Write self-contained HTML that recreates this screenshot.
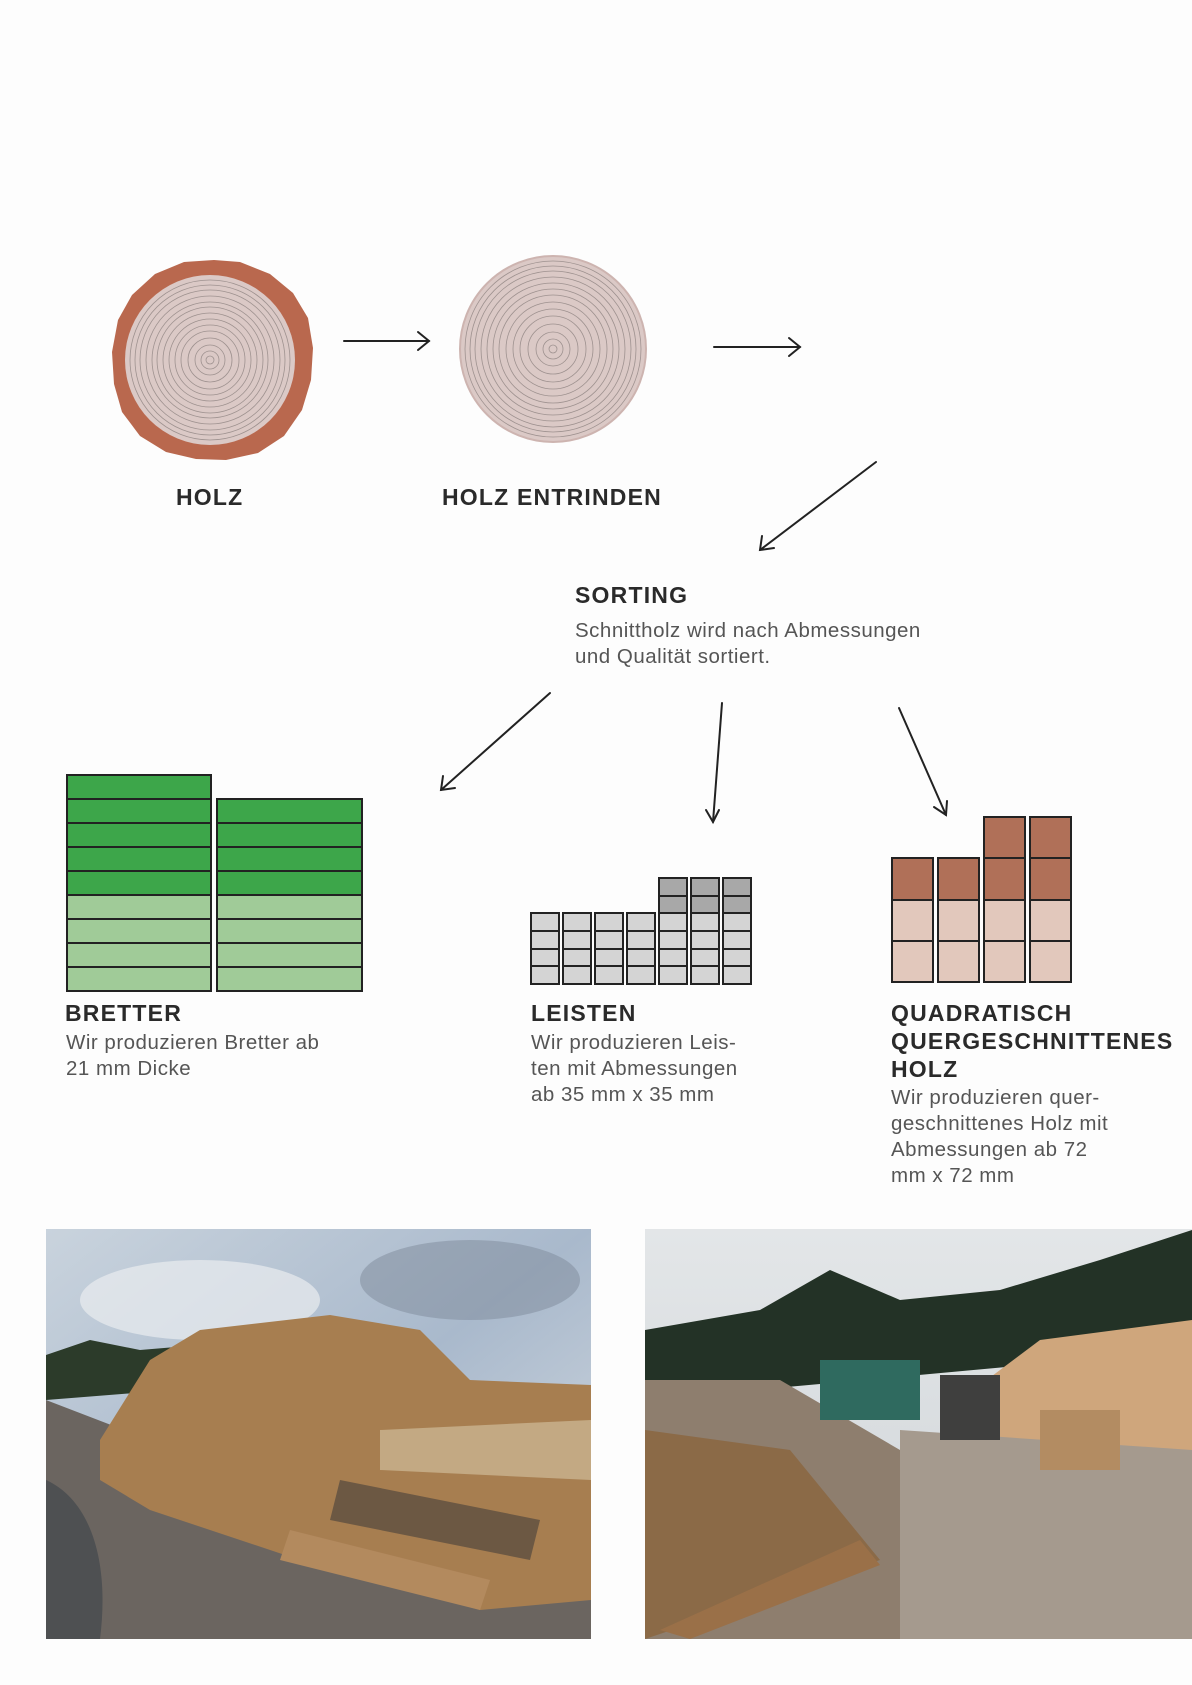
<!DOCTYPE html>
<html><head><meta charset="utf-8"><style>
html,body{margin:0;padding:0;background:#fdfdfd;}
body{width:1192px;height:1685px;position:relative;overflow:hidden;font-family:"Liberation Sans",sans-serif;}
.t{position:absolute;color:#2a2a2a;font-weight:bold;font-size:23px;letter-spacing:1.2px;line-height:28px;white-space:nowrap;}
.d{position:absolute;color:#555;font-size:20.5px;letter-spacing:0.5px;line-height:26px;white-space:nowrap;}
svg{position:absolute;left:0;top:0;}
</style></head><body>
<svg width="1192" height="1685" viewBox="0 0 1192 1685">
<defs>
<linearGradient id="sky1" x1="0" y1="0" x2="1" y2="1"><stop offset="0" stop-color="#c9d3dd"/><stop offset="0.5" stop-color="#a9b9cc"/><stop offset="1" stop-color="#d8dde2"/></linearGradient>
<linearGradient id="sky2" x1="0" y1="0" x2="0" y2="1"><stop offset="0" stop-color="#e3e6e8"/><stop offset="1" stop-color="#cfd4d8"/></linearGradient>
</defs>
<!-- HOLZ -->
<path d="M214 260 L240 262 L270 274 L293 293 L308 318 L313 348 L311 380 L302 410 L284 436 L258 453 L226 460 L196 459 L166 452 L140 436 L122 412 L114 384 L112 352 L118 320 L132 295 L155 274 L184 262Z" fill="#b9684e"/>
<circle cx="210" cy="360" r="85" fill="#dbc9c6"/>
<g fill="none" stroke="#8f8482" stroke-width="0.8" opacity="0.8">
<circle cx="210" cy="360" r="80"/><circle cx="210" cy="360" r="75"/><circle cx="210" cy="360" r="70"/><circle cx="210" cy="360" r="64"/><circle cx="210" cy="360" r="58"/><circle cx="210" cy="360" r="53"/><circle cx="210" cy="360" r="47"/><circle cx="210" cy="360" r="41"/><circle cx="210" cy="360" r="35"/><circle cx="210" cy="360" r="29"/><circle cx="210" cy="360" r="22"/><circle cx="210" cy="360" r="15"/><circle cx="210" cy="360" r="9"/><circle cx="210" cy="360" r="4"/>
</g>
<!-- ENTRINDEN -->
<circle cx="553" cy="349" r="93" fill="#dbc9c6" stroke="#cdb4b0" stroke-width="2"/>
<g fill="none" stroke="#8f8482" stroke-width="0.8" opacity="0.8">
<circle cx="553" cy="349" r="88"/><circle cx="553" cy="349" r="83"/><circle cx="553" cy="349" r="78"/><circle cx="553" cy="349" r="72"/><circle cx="553" cy="349" r="66"/><circle cx="553" cy="349" r="60"/><circle cx="553" cy="349" r="54"/><circle cx="553" cy="349" r="47"/><circle cx="553" cy="349" r="40"/><circle cx="553" cy="349" r="33"/><circle cx="553" cy="349" r="25"/><circle cx="553" cy="349" r="17"/><circle cx="553" cy="349" r="10"/><circle cx="553" cy="349" r="4"/>
</g>
<!-- arrows -->
<g stroke="#222" stroke-width="2" fill="none" stroke-linecap="round">
<line x1="344" y1="341" x2="429" y2="341"/><polyline points="418,332 429,341 418,350"/>
<line x1="714" y1="347" x2="800" y2="347"/><polyline points="789,338 800,347 789,356"/>
<line x1="876" y1="462" x2="760" y2="550"/><polyline points="762,536 760,550 774,548"/>
<line x1="550" y1="693" x2="441" y2="790"/><polyline points="443,776 441,790 455,788"/>
<line x1="722" y1="703" x2="713" y2="822"/><polyline points="706,810 713,822 719,810"/>
<line x1="899" y1="708" x2="946" y2="815"/><polyline points="934,807 946,815 947,801"/>
</g>
<!-- Bretter -->
<g stroke="#222" stroke-width="2">
<rect x="67" y="775" width="144" height="24" fill="#3da64a"/>
<rect x="67" y="799" width="144" height="24" fill="#3da64a"/>
<rect x="67" y="823" width="144" height="24" fill="#3da64a"/>
<rect x="67" y="847" width="144" height="24" fill="#3da64a"/>
<rect x="67" y="871" width="144" height="24" fill="#3da64a"/>
<rect x="67" y="895" width="144" height="24" fill="#a0cb98"/>
<rect x="67" y="919" width="144" height="24" fill="#a0cb98"/>
<rect x="67" y="943" width="144" height="24" fill="#a0cb98"/>
<rect x="67" y="967" width="144" height="24" fill="#a0cb98"/>
<rect x="217" y="799" width="145" height="24" fill="#3da64a"/>
<rect x="217" y="823" width="145" height="24" fill="#3da64a"/>
<rect x="217" y="847" width="145" height="24" fill="#3da64a"/>
<rect x="217" y="871" width="145" height="24" fill="#3da64a"/>
<rect x="217" y="895" width="145" height="24" fill="#a0cb98"/>
<rect x="217" y="919" width="145" height="24" fill="#a0cb98"/>
<rect x="217" y="943" width="145" height="24" fill="#a0cb98"/>
<rect x="217" y="967" width="145" height="24" fill="#a0cb98"/>
</g>
<!-- Leisten -->
<g stroke="#222" stroke-width="2" fill="#d4d4d4">
<g id="c1"><rect x="531" y="913" width="28" height="18"/><rect x="531" y="931" width="28" height="18"/><rect x="531" y="949" width="28" height="17"/><rect x="531" y="966" width="28" height="18"/></g>
<use href="#c1" x="32"/><use href="#c1" x="64"/><use href="#c1" x="96"/><use href="#c1" x="128"/><use href="#c1" x="160"/><use href="#c1" x="192"/>
<rect x="659" y="878" width="28" height="18" fill="#a8a8a8"/><rect x="659" y="896" width="28" height="17" fill="#a8a8a8"/>
<rect x="691" y="878" width="28" height="18" fill="#a8a8a8"/><rect x="691" y="896" width="28" height="17" fill="#a8a8a8"/>
<rect x="723" y="878" width="28" height="18" fill="#a8a8a8"/><rect x="723" y="896" width="28" height="17" fill="#a8a8a8"/>
</g>
<!-- Quadratisch -->
<g stroke="#222" stroke-width="2">
<g id="q1"><rect x="892" y="858" width="41" height="42" fill="#b07058"/><rect x="892" y="900" width="41" height="41" fill="#e2c8bc"/><rect x="892" y="941" width="41" height="41" fill="#e2c8bc"/></g>
<use href="#q1" x="46"/><use href="#q1" x="92"/><use href="#q1" x="138"/>
<rect x="984" y="817" width="41" height="41" fill="#b07058"/>
<rect x="1030" y="817" width="41" height="41" fill="#b07058"/>
</g>
<!-- Photo 1 -->
<rect x="46" y="1229" width="545" height="410" fill="url(#sky1)"/>
<ellipse cx="200" cy="1300" rx="120" ry="40" fill="#e9edf0" opacity="0.7"/>
<ellipse cx="470" cy="1280" rx="110" ry="40" fill="#7d8a99" opacity="0.5"/>
<path d="M46 1355 L90 1340 L140 1350 L200 1345 L260 1360 L300 1380 L46 1400Z" fill="#2c3b2a"/>
<path d="M46 1400 L46 1639 L591 1639 L591 1470 L300 1480 L150 1440Z" fill="#6b6560"/>
<path d="M46 1480 C90 1500 110 1560 100 1639 L46 1639Z" fill="#4e5052"/>
<path d="M100 1440 L150 1360 L200 1330 L330 1315 L420 1330 L470 1380 L591 1385 L591 1600 L480 1610 L300 1560 L150 1510 L100 1480Z" fill="#a77e50"/>
<path d="M380 1430 L591 1420 L591 1480 L380 1470Z" fill="#c3a983"/>
<path d="M340 1480 L540 1520 L530 1560 L330 1520Z" fill="#6c5843"/>
<path d="M290 1530 L490 1580 L480 1610 L280 1560Z" fill="#b38a5e"/>
<!-- Photo 2 -->
<rect x="645" y="1229" width="547" height="410" fill="url(#sky2)"/>
<path d="M645 1330 L760 1310 L830 1270 L900 1300 L1000 1290 L1100 1260 L1192 1230 L1192 1350 L645 1400Z" fill="#233226"/>
<path d="M960 1400 L1040 1340 L1192 1320 L1192 1480 L960 1470Z" fill="#cfa67c"/>
<path d="M645 1380 L780 1380 L900 1450 L1000 1460 L1192 1480 L1192 1639 L645 1639Z" fill="#8e7e6e"/>
<path d="M645 1430 L790 1450 L880 1560 L645 1639Z" fill="#8b6a47"/>
<path d="M900 1430 L1192 1450 L1192 1639 L900 1639Z" fill="#a59a8e"/>
<rect x="820" y="1360" width="100" height="60" fill="#2f6a5f"/>
<rect x="940" y="1375" width="60" height="65" fill="#3f3f3e"/>
<rect x="1040" y="1410" width="80" height="60" fill="#b38c62"/>
<path d="M660 1630 L860 1540 L880 1565 L690 1639Z" fill="#9a7048"/>
</svg>
<div class="t" style="left:176px;top:483px;">HOLZ</div>
<div class="t" style="left:442px;top:483px;">HOLZ ENTRINDEN</div>
<div class="t" style="left:575px;top:581px;">SORTING</div>
<div class="d" style="left:575px;top:618px;">Schnittholz wird nach Abmessungen<br>und Qualität sortiert.</div>
<div class="t" style="left:65px;top:999px;">BRETTER</div>
<div class="d" style="left:66px;top:1030px;">Wir produzieren Bretter ab<br>21 mm Dicke</div>
<div class="t" style="left:531px;top:999px;">LEISTEN</div>
<div class="d" style="left:531px;top:1030px;">Wir produzieren Leis-<br>ten mit Abmessungen<br>ab 35 mm x 35 mm</div>
<div class="t" style="left:891px;top:999px;">QUADRATISCH<br>QUERGESCHNITTENES<br>HOLZ</div>
<div class="d" style="left:891px;top:1085px;">Wir produzieren quer-<br>geschnittenes Holz mit<br>Abmessungen ab 72<br>mm x 72 mm</div>
</body></html>
